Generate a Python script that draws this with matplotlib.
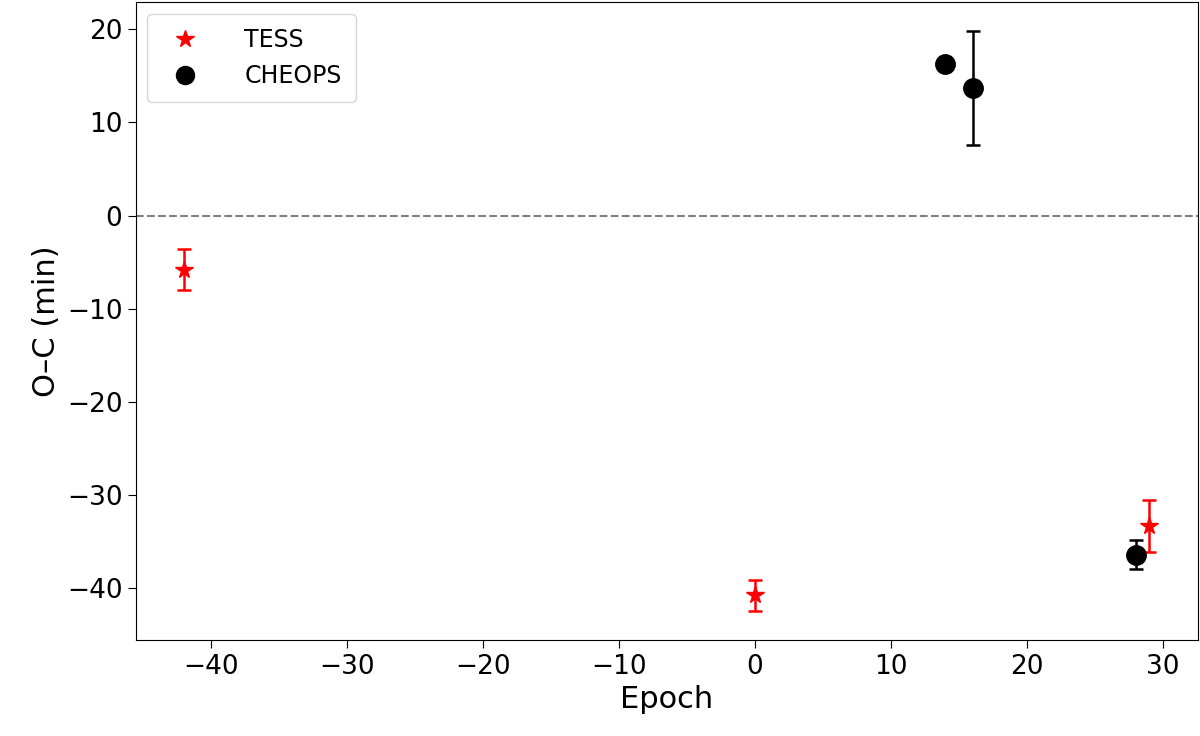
import matplotlib
matplotlib.use("Agg")
import matplotlib.pyplot as plt
from matplotlib.lines import Line2D

tess_epoch = [-42, 0, 29]
tess_oc = [-5.8, -40.8, -33.3]
tess_err = [2.2, 1.7, 2.8]
cheops_epoch = [14, 16, 28]
cheops_oc = [16.3, 13.7, -36.4]
cheops_err = [0.3, 6.1, 1.6]

fig = plt.figure(figsize=(12, 7.36), dpi=100)
ax = fig.add_axes([0.113, 0.13, 0.885, 0.867])
ax.errorbar(tess_epoch, tess_oc, yerr=tess_err, fmt='*', color='red', ms=13, capsize=5, elinewidth=1.8, capthick=1.8)
ax.errorbar(cheops_epoch, cheops_oc, yerr=cheops_err, fmt='o', color='black', ms=14, capsize=5, elinewidth=1.8, capthick=1.8)
ax.axhline(0, color='gray', ls='--', lw=1.5)
ax.set_xlabel('Epoch', fontsize=22)
ax.set_ylabel('O–C (min)', fontsize=22)
ax.tick_params(labelsize=19, length=6)
handles = [Line2D([], [], marker='*', color='red', ls='none', ms=13),
           Line2D([], [], marker='o', color='black', ls='none', ms=13)]
ax.legend(handles, ['TESS', 'CHEOPS'], loc='upper left', fontsize=17, handletextpad=1.5, borderpad=0.6)
fig.savefig('out.png', dpi=100)
